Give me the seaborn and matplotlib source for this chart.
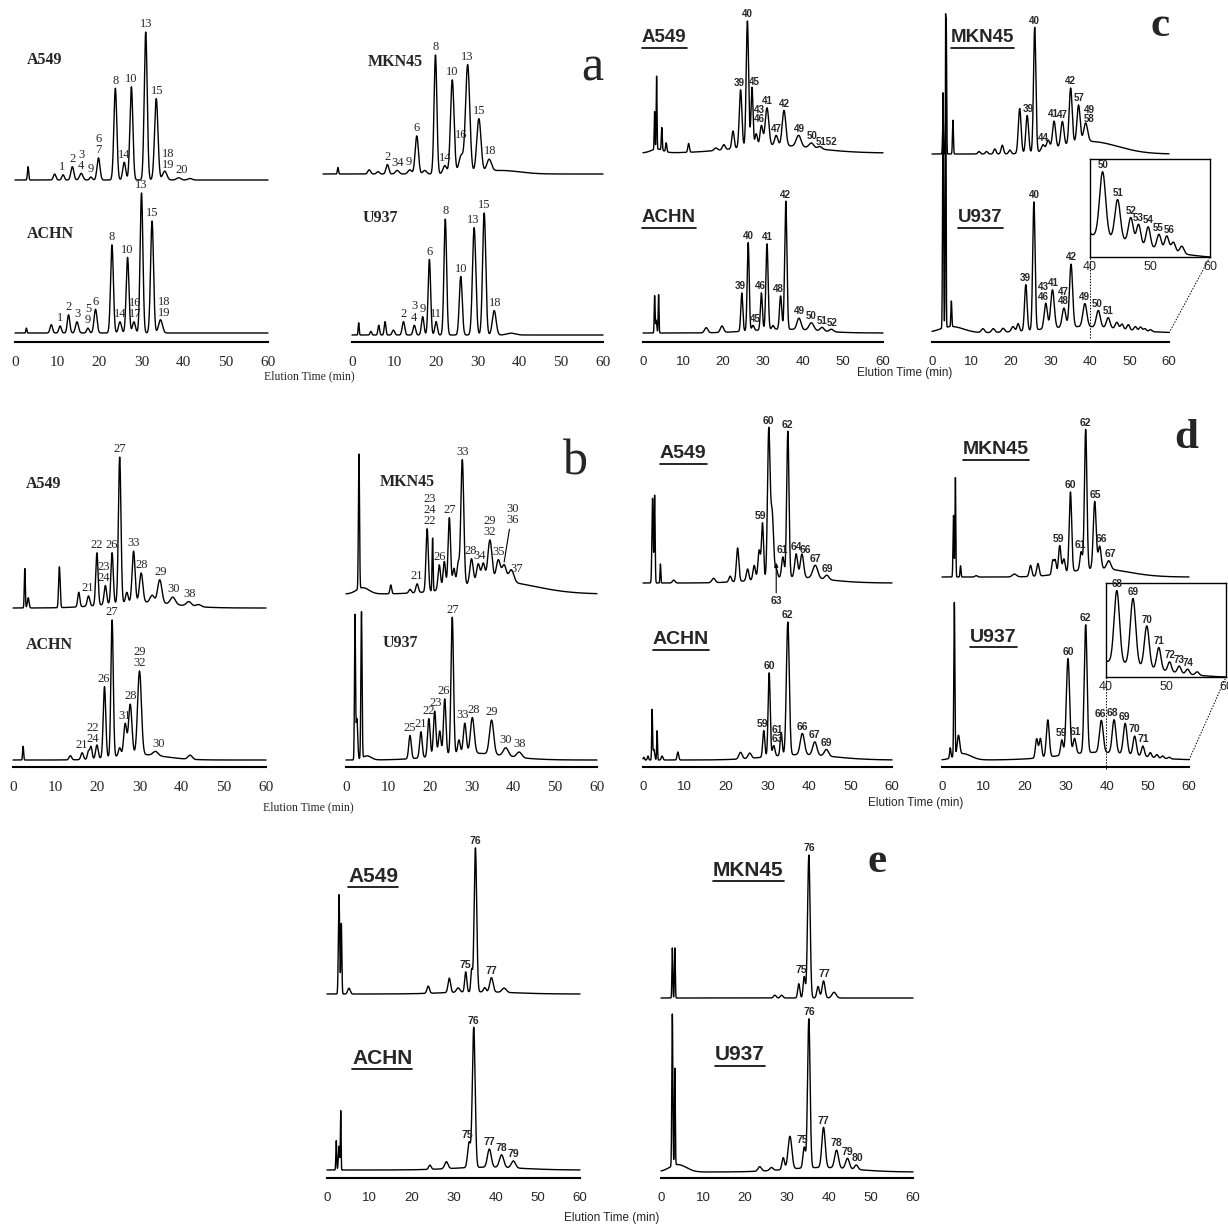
import numpy as np
import pandas as pd
import matplotlib
matplotlib.use("Agg")
import matplotlib.pyplot as plt
from matplotlib.lines import Line2D
import seaborn as sns

# peaks: (retention time [min], relative height, width [min])
# labels: (peak number text, retention time)

# ---- panel a ----
a_A549_peaks = [(3.1, 0.09, 0.15), (9.4, 0.04, 0.3), (11.4, 0.035, 0.3), (13.6, 0.09, 0.35),
                (15.7, 0.045, 0.4), (18.0, 0.02, 0.3), (19.8, 0.15, 0.35), (23.8, 0.62, 0.35),
                (25.9, 0.12, 0.35), (27.6, 0.63, 0.35), (31.0, 1.0, 0.35), (33.5, 0.55, 0.4),
                (35.5, 0.06, 0.5), (38.8, 0.015, 0.5), (41.5, 0.01, 0.5)]
a_A549_labels = [("1", 11.2), ("2", 13.6), ("3\n4", 15.7), ("9", 18.0), ("6\n7", 19.8), ("8", 23.8),
                 ("14", 26.0), ("10", 27.6), ("13", 31.0), ("15", 33.6), ("18\n19", 36.4), ("20", 39.6)]
a_ACHN_peaks = [(2.7, 0.035, 0.12), (8.6, 0.06, 0.3), (10.7, 0.05, 0.3), (12.7, 0.13, 0.3),
                (14.7, 0.08, 0.35), (17.3, 0.035, 0.3), (19.1, 0.17, 0.35), (23.0, 0.63, 0.33),
                (24.9, 0.08, 0.35), (26.7, 0.54, 0.33), (28.2, 0.08, 0.35), (30.0, 1.0, 0.33),
                (32.5, 0.80, 0.35), (34.5, 0.095, 0.45)]
a_ACHN_labels = [("1", 10.7), ("2", 12.7), ("3", 14.8), ("5\n9", 17.3), ("6", 19.1), ("8", 23.0),
                 ("14", 25.0), ("10", 26.7), ("16\n17", 28.4), ("13", 30.0), ("15", 32.6), ("18\n19", 35.3)]
a_MKN45_peaks = [(3.2, 0.055, 0.12), (9.9, 0.035, 0.3), (11.8, 0.02, 0.3), (13.8, 0.08, 0.3),
                 (15.9, 0.03, 0.4), (18.6, 0.035, 0.4), (20.1, 0.32, 0.35), (21.8, 0.03, 0.4),
                 (24.1, 1.0, 0.3), (26.1, 0.07, 0.4), (27.7, 0.79, 0.38), (29.6, 0.15, 0.5),
                 (31.0, 0.91, 0.45), (33.4, 0.45, 0.45), (35.6, 0.1, 0.5), (38.0, 0.03, 4.0)]
a_MKN45_labels = [("2", 13.8), ("34", 15.9), ("9", 18.4), ("6", 20.1), ("8", 24.1), ("14", 26.2),
                  ("10", 27.7), ("16", 29.6), ("13", 31.0), ("15", 33.4), ("18", 35.8)]
a_U937_peaks = [(1.6, 0.1, 0.12), (4.5, 0.03, 0.2), (6.4, 0.08, 0.2), (7.9, 0.11, 0.2),
                (9.9, 0.04, 0.3), (12.3, 0.11, 0.3), (14.9, 0.08, 0.3), (16.9, 0.15, 0.3),
                (18.5, 0.62, 0.3), (20.1, 0.11, 0.3), (22.3, 0.95, 0.32), (26.0, 0.48, 0.35),
                (29.2, 0.88, 0.4), (31.6, 1.0, 0.38), (34.0, 0.2, 0.45), (38.0, 0.015, 1.0)]
a_U937_labels = [("2", 12.3), ("3\n4", 14.9), ("9", 16.9), ("6", 18.5), ("11", 20.1), ("8", 22.3),
                 ("10", 26.0), ("13", 29.0), ("15", 31.6), ("18", 34.2)]

# ---- panel b ----
b_A549_peaks = [(2.8, 0.27, 0.12), (3.6, 0.07, 0.2), (11.0, 0.28, 0.18), (15.6, 0.1, 0.25),
                (17.9, 0.07, 0.3), (19.9, 0.36, 0.28), (21.9, 0.13, 0.3), (23.5, 0.35, 0.28),
                (25.3, 1.0, 0.3), (27.0, 0.07, 0.3), (28.6, 0.35, 0.35), (30.4, 0.2, 0.4),
                (33.0, 0.05, 0.5), (34.8, 0.16, 0.5), (37.9, 0.05, 0.6), (41.7, 0.03, 0.6),
                (44.0, 0.015, 0.6), (30.0, 0.04, 8.0)]
b_A549_labels = [("21", 17.6), ("22", 19.9), ("23\n24", 21.6), ("26", 23.4), ("27", 25.3), ("33", 28.6),
                 ("28", 30.6), ("29", 35.0), ("30", 38.0), ("38", 41.8)]
b_ACHN_peaks = [(2.4, 0.1, 0.12), (13.6, 0.03, 0.3), (16.4, 0.05, 0.3), (17.9, 0.06, 0.25),
                (18.5, 0.09, 0.25), (19.9, 0.1, 0.3), (21.7, 0.52, 0.3), (23.5, 1.0, 0.28),
                (25.3, 0.06, 0.3), (26.6, 0.23, 0.35), (27.8, 0.37, 0.4), (30.0, 0.61, 0.45),
                (33.8, 0.03, 0.6), (42.0, 0.03, 0.5), (30.0, 0.04, 6.0)]
b_ACHN_labels = [("21", 16.2), ("22\n24", 18.9), ("26", 21.5), ("27", 23.5), ("31", 26.4),
                 ("28", 27.9), ("29\n32", 30.0), ("30", 34.5)]
b_MKN45_peaks = [(3.1, 1.07, 0.13), (4.0, 0.05, 1.5), (10.7, 0.07, 0.2), (15.3, 0.03, 0.3),
                 (17.0, 0.07, 0.3), (19.4, 0.5, 0.28), (20.7, 0.42, 0.12), (22.3, 0.2, 0.3),
                 (23.5, 0.22, 0.3), (24.7, 0.56, 0.3), (25.8, 0.15, 0.3), (26.8, 0.18, 0.3),
                 (27.8, 1.0, 0.35), (30.0, 0.2, 0.4), (31.6, 0.15, 0.4), (32.8, 0.15, 0.4),
                 (34.4, 0.33, 0.5), (36.4, 0.17, 0.5), (37.8, 0.13, 0.5), (39.5, 0.1, 0.6),
                 (36.0, 0.1, 9.0)]
b_MKN45_labels = [("21", 17.0), ("23\n24\n22", 19.9), ("26", 22.5), ("27", 24.7), ("33", 27.8),
                  ("28", 29.7), ("34", 32.0), ("29\n32", 34.4), ("35", 36.4), ("37", 40.8)]
b_MKN45_leader = ("30\n36", 37.8)
b_U937_peaks = [(2.15, 1.04, 0.12), (2.6, 0.3, 0.2), (3.7, 1.07, 0.14), (5.0, 0.03, 1.0),
                (15.3, 0.17, 0.3), (17.9, 0.19, 0.3), (19.8, 0.28, 0.3), (21.2, 0.33, 0.3),
                (22.4, 0.18, 0.3), (23.6, 0.41, 0.3), (25.4, 1.0, 0.3), (27.0, 0.1, 0.3),
                (28.4, 0.22, 0.35), (30.2, 0.26, 0.45), (34.8, 0.25, 0.5), (38.2, 0.06, 0.6),
                (41.4, 0.04, 0.6), (30.0, 0.05, 8.0)]
b_U937_labels = [("25", 15.3), ("21", 17.9), ("22", 19.8), ("23", 21.4), ("26", 23.4), ("27", 25.4),
                 ("33", 27.9), ("28", 30.5), ("29", 34.8), ("30", 38.2), ("38", 41.6)]

# ---- panel c ----
c_A549_peaks = [(2.9, 0.3, 0.1), (3.4, 0.58, 0.1), (4.7, 0.18, 0.12), (5.8, 0.07, 0.15),
                (11.4, 0.07, 0.2), (18.2, 0.02, 0.4), (20.2, 0.04, 0.35), (22.5, 0.14, 0.3),
                (24.4, 0.46, 0.33), (26.1, 1.0, 0.3), (27.25, 0.47, 0.25), (28.3, 0.1, 0.3),
                (29.6, 0.16, 0.35), (31.0, 0.3, 0.45), (33.3, 0.08, 0.4), (35.25, 0.28, 0.45),
                (38.9, 0.09, 0.6), (42.1, 0.04, 0.6), (44.2, 0.02, 0.5), (33.0, 0.06, 10.0),
                (3.5, 0.03, 1.5)]
c_A549_labels = [("39", 24.1), ("40", 26.1), ("45", 27.9), ("43\n46", 29.0), ("41", 31.0),
                 ("47", 33.3), ("42", 35.3), ("49", 39.0), ("50", 42.2), ("5152", 45.8)]
c_ACHN_peaks = [(2.9, 0.29, 0.1), (3.3, 0.1, 0.15), (3.9, 0.3, 0.1), (15.8, 0.04, 0.4),
                (19.75, 0.05, 0.4), (24.7, 0.3, 0.25), (26.3, 0.69, 0.25), (27.5, 0.04, 0.3),
                (29.6, 0.29, 0.25), (31.0, 0.67, 0.28), (32.5, 0.03, 0.3), (34.4, 0.26, 0.28),
                (35.7, 1.0, 0.28), (39.0, 0.09, 0.5), (42.1, 0.06, 0.6), (44.75, 0.03, 0.5),
                (47.1, 0.02, 0.5), (35.0, 0.03, 8.0)]
c_ACHN_labels = [("39", 24.4), ("40", 26.3), ("45", 28.0), ("46", 29.3), ("41", 31.0), ("48", 33.9),
                 ("42", 35.7), ("49", 39.2), ("50", 42.1), ("51", 44.8), ("52", 47.3)]
c_MKN45_peaks = [(2.8, 0.3, 0.12), (3.6, 1.09, 0.1), (5.3, 0.27, 0.12), (11.9, 0.02, 0.3),
                 (13.8, 0.02, 0.3), (15.9, 0.04, 0.3), (17.8, 0.07, 0.3), (19.7, 0.03, 0.3),
                 (22.2, 0.36, 0.35), (24.1, 0.3, 0.35), (26.0, 1.0, 0.3), (28.1, 0.05, 0.4),
                 (29.4, 0.08, 0.4), (30.9, 0.22, 0.4), (33.0, 0.2, 0.4), (35.1, 0.45, 0.38),
                 (37.1, 0.3, 0.4), (38.9, 0.15, 0.5), (40.0, 0.1, 7.0)]
c_MKN45_labels = [("39", 24.4), ("40", 26.0), ("44", 28.3), ("41", 30.6), ("47", 33.1), ("42", 35.1),
                  ("57", 37.2), ("49\n58", 39.8)]
c_U937_peaks = [(2.8, 1.84, 0.12), (3.45, 2.45, 0.1), (4.9, 0.2, 0.12), (5.0, 0.05, 3.0),
                (12.9, 0.03, 0.4), (15.5, 0.03, 0.4), (18.0, 0.03, 0.4), (20.5, 0.04, 0.4),
                (21.8, 0.06, 0.3), (23.75, 0.36, 0.32), (25.8, 1.0, 0.3), (28.8, 0.2, 0.4),
                (30.5, 0.3, 0.45), (33.4, 0.15, 0.45), (35.2, 0.49, 0.4), (38.7, 0.18, 0.5),
                (42.1, 0.13, 0.5), (44.6, 0.08, 0.45), (46.8, 0.05, 0.4), (48.1, 0.04, 0.35),
                (49.7, 0.04, 0.35), (51.5, 0.03, 0.35), (52.8, 0.03, 0.35), (53.9, 0.02, 0.35),
                (55.3, 0.015, 0.35), (38.0, 0.05, 10.0)]
c_U937_labels = [("39", 23.5), ("40", 25.8), ("43\n46", 28.3), ("41", 30.8), ("47\n48", 33.3),
                 ("42", 35.2), ("49", 38.7), ("50", 41.9), ("51", 44.6)]
c_inset_labels = [("50", 42.1), ("51", 44.6), ("52", 46.8), ("53", 48.0), ("54", 49.7),
                  ("55", 51.3), ("56", 53.2)]

# ---- panel d ----
d_A549_peaks = [(2.3, 0.58, 0.15), (2.8, 0.6, 0.12), (4.2, 0.13, 0.1), (7.4, 0.02, 0.3),
                (17.0, 0.03, 0.4), (21.0, 0.04, 0.3), (22.8, 0.23, 0.3), (25.2, 0.08, 0.3),
                (26.8, 0.1, 0.3), (28.0, 0.2, 0.3), (28.8, 0.38, 0.25), (30.3, 1.0, 0.3),
                (31.1, 0.45, 0.35), (32.1, 0.06, 0.3), (33.7, 0.14, 0.3), (34.9, 1.0, 0.28),
                (36.9, 0.16, 0.35), (38.3, 0.16, 0.4), (41.5, 0.09, 0.6), (44.3, 0.03, 0.5),
                (36.0, 0.04, 8.0)]
d_A549_labels = [("59", 28.4), ("60", 30.3), ("61", 33.5), ("62", 34.9), ("64", 37.0), ("66", 39.1),
                 ("67", 41.5), ("69", 44.4)]
d_A549_arrow = ("63", 32.1)
d_ACHN_peaks = [(0.2, 0.02, 0.15), (1.2, 0.03, 0.15), (2.2, 0.37, 0.1), (2.6, 0.08, 0.2),
                (3.4, 0.22, 0.1), (4.6, 0.03, 0.2), (8.4, 0.06, 0.2), (23.5, 0.05, 0.4),
                (25.7, 0.04, 0.4), (29.1, 0.2, 0.25), (30.4, 0.63, 0.25), (31.5, 0.08, 0.3),
                (33.3, 0.17, 0.25), (34.9, 1.0, 0.35), (38.4, 0.16, 0.5), (41.4, 0.1, 0.5),
                (44.2, 0.05, 0.5), (38.0, 0.04, 8.0)]
d_ACHN_labels = [("59", 28.8), ("60", 30.4), ("61\n63", 32.4), ("62", 34.9), ("66", 38.4),
                 ("67", 41.4), ("69", 44.3)]
d_MKN45_peaks = [(2.8, 0.44, 0.12), (3.25, 0.71, 0.1), (4.5, 0.08, 0.12), (8.3, 0.01, 0.3),
                 (17.6, 0.02, 0.5), (21.5, 0.08, 0.3), (23.3, 0.09, 0.3), (26.9, 0.1, 0.25),
                 (27.5, 0.1, 0.25), (28.6, 0.2, 0.3), (29.6, 0.1, 0.3), (31.2, 0.57, 0.3),
                 (33.8, 0.13, 0.3), (34.9, 1.0, 0.3), (37.1, 0.48, 0.35), (38.3, 0.16, 0.35),
                 (40.5, 0.06, 0.5), (38.0, 0.06, 7.0)]
d_MKN45_labels = [("59", 28.4), ("60", 31.2), ("61", 33.5), ("62", 34.9), ("65", 37.3), ("66", 38.8),
                  ("67", 40.8)]
d_U937_peaks = [(2.0, 0.08, 0.15), (3.0, 1.2, 0.13), (4.0, 0.15, 0.3), (5.0, 0.05, 2.0),
                (23.0, 0.15, 0.3), (23.9, 0.15, 0.3), (25.7, 0.29, 0.35), (29.1, 0.12, 0.3),
                (30.6, 0.75, 0.4), (32.2, 0.12, 0.35), (34.9, 1.0, 0.35), (38.7, 0.25, 0.45),
                (41.8, 0.26, 0.45), (44.5, 0.24, 0.45), (46.8, 0.15, 0.4), (48.8, 0.08, 0.35),
                (50.6, 0.035, 0.3), (52.2, 0.025, 0.3), (53.6, 0.018, 0.3), (55.2, 0.012, 0.3),
                (38.0, 0.06, 9.0)]
d_U937_labels = [("59", 28.9), ("60", 30.6), ("61", 32.3), ("62", 34.9), ("66", 38.4), ("68", 41.4),
                 ("69", 44.4), ("70", 46.8), ("71", 48.8)]
d_inset_labels = [("68", 41.8), ("69", 44.5), ("70", 46.8), ("71", 48.8), ("72", 50.6),
                  ("73", 52.2), ("74", 53.6)]

# ---- panel e ----
e_A549_peaks = [(2.85, 0.69, 0.15), (3.4, 0.49, 0.12), (5.2, 0.04, 0.3), (24.0, 0.05, 0.3),
                (29.0, 0.1, 0.3), (31.1, 0.03, 0.4), (32.9, 0.14, 0.25), (34.3, 0.15, 0.2),
                (35.2, 1.0, 0.3), (37.4, 0.03, 0.3), (39.0, 0.1, 0.4), (42.0, 0.03, 0.5),
                (36.0, 0.015, 8.0)]
e_A549_labels = [("75", 32.9), ("76", 35.2), ("77", 39.0)]
e_ACHN_peaks = [(2.2, 0.21, 0.1), (2.85, 0.17, 0.15), (3.25, 0.42, 0.08), (24.4, 0.03, 0.3),
                (28.3, 0.05, 0.4), (33.7, 0.18, 0.35), (34.8, 1.0, 0.33), (38.5, 0.13, 0.45),
                (41.4, 0.09, 0.5), (44.2, 0.05, 0.5), (38.0, 0.02, 8.0)]
e_ACHN_labels = [("75", 33.3), ("76", 34.8), ("77", 38.5), ("78", 41.4), ("79", 44.2)]
e_MKN45_peaks = [(2.7, 0.35, 0.1), (3.3, 0.35, 0.1), (27.1, 0.02, 0.3), (28.7, 0.02, 0.3),
                 (32.8, 0.1, 0.25), (34.1, 0.15, 0.25), (35.2, 1.0, 0.3), (37.4, 0.08, 0.3),
                 (38.7, 0.12, 0.35), (41.2, 0.04, 0.5)]
e_MKN45_labels = [("75", 33.5), ("76", 35.2), ("77", 38.8)]
e_U937_peaks = [(2.7, 1.02, 0.12), (3.3, 0.65, 0.1), (4.0, 0.05, 2.0), (23.5, 0.03, 0.4),
                (26.3, 0.02, 0.4), (29.1, 0.08, 0.3), (30.7, 0.22, 0.45), (34.1, 0.14, 0.3),
                (35.2, 1.0, 0.3), (38.7, 0.27, 0.4), (41.8, 0.12, 0.45), (44.4, 0.07, 0.45),
                (46.5, 0.03, 0.4), (38.0, 0.03, 8.0)]
e_U937_labels = [("75", 33.6), ("76", 35.2), ("77", 38.7), ("78", 41.8), ("79", 44.3), ("80", 46.7)]

time_ticks = [0, 10, 20, 30, 40, 50, 60]
inset_ticks = [40, 50, 60]

sns.set_style("white")
plt.rcParams["font.family"] = ["Liberation Sans", "DejaVu Sans"]

W, H = 1228, 1226
fig = plt.figure(figsize=(W / 100, H / 100), dpi=100)
T = np.linspace(0, 60, 4001)

SERIF = "Liberation Serif"
SANS = "Liberation Sans"
LW = 1.0
underlined = []


def build(peaks):
    y = np.zeros_like(T)
    for c, h, w in peaks:
        y += h * np.exp(-0.5 * ((T - c) / w) ** 2)
    return y


def add_ax(x0, x1, base, top):
    return fig.add_axes([x0 / W, 1 - base / H, (x1 - x0) / W, (base - top) / H])


def draw_trace(geom, peaks, labels, serif, lab_size):
    ax = add_ax(*geom)
    y = build(peaks)
    df = pd.DataFrame({"time": T, "signal": y})
    sns.lineplot(data=df, x="time", y="signal", ax=ax, color="black", linewidth=LW,
                 estimator=None, sort=False)
    for ln in ax.lines:
        ln.set_clip_on(False)
    fam = SERIF if serif else SANS
    wt = "normal" if serif else "bold"
    for text, t in labels:
        m = (T > t - 0.6) & (T < t + 0.6)
        ax.annotate(text, (t, y[m].max()), xytext=(0, 1.2), textcoords="offset points",
                    ha="center", va="bottom", fontsize=lab_size, family=fam, weight=wt,
                    linespacing=0.9, annotation_clip=False)
    ax.set_xlim(0, 60)
    ax.set_ylim(0, 1)
    ax.set_xlabel("")
    ax.set_ylabel("")
    ax.axis("off")
    return ax, y


def add_axis(geom, axis_y, serif, size):
    x0, x1, base, top = geom
    ax = fig.add_axes([x0 / W, 1 - axis_y / H, (x1 - x0) / W, 0.001], facecolor="none")
    for s in ["left", "right", "top"]:
        ax.spines[s].set_visible(False)
    ax.spines["bottom"].set_linewidth(1.5)
    ax.spines["bottom"].set_color("black")
    ax.set_xlim(0, 60)
    ax.set_yticks([])
    ax.set_xticks(time_ticks)
    ax.set_xticklabels([str(v) for v in time_ticks], family=SERIF if serif else SANS,
                       fontsize=size)
    ax.tick_params(axis="x", direction="out", length=7, width=1.4, pad=3, color="black")


def cell_label(x, y, text, serif, size):
    if serif:
        fig.text(x / W, 1 - y / H, text, family=SERIF, weight="bold", fontsize=size,
                 ha="left", va="center")
    else:
        t = fig.text(x / W, 1 - y / H, text, family=SANS, weight="bold", fontsize=size,
                     ha="left", va="center")
        underlined.append(t)


def px_line(xs, ys, **kw):
    fig.add_artist(Line2D([x / W for x in xs], [1 - y / H for y in ys],
                          transform=fig.transFigure, **kw))


def inset(box, y, labels, top_frac):
    x0, x1, base, top = box
    ax = add_ax(x0, x1, base, top)
    m = T >= 40
    ymin = y[-1]
    ymax = ymin + (y[m].max() - ymin) / top_frac
    sns.lineplot(x=T[m], y=y[m], ax=ax, color="black", linewidth=LW, estimator=None, sort=False)
    for text, t in labels:
        mm = (T > t - 0.5) & (T < t + 0.5)
        ax.annotate(text, (t, y[mm].max()), xytext=(0, 1.0), textcoords="offset points",
                    ha="center", va="bottom", fontsize=7, family=SANS, weight="bold")
    ax.set_xlim(40, 60)
    ax.set_ylim(ymin, ymax)
    ax.set_yticks([])
    ax.set_xticks(inset_ticks)
    ax.set_xticklabels([str(v) for v in inset_ticks], family=SANS, fontsize=9)
    ax.tick_params(axis="x", direction="in", length=4, width=1, pad=3)
    ax.set_xlabel("")
    ax.set_ylabel("")
    for s in ax.spines.values():
        s.set_linewidth(1.0)
        s.set_color("black")
    return ax


# panel a
g = (15, 268, 180, 32); draw_trace(g, a_A549_peaks, a_A549_labels, True, 9)
g = (15, 268, 333, 193); draw_trace(g, a_ACHN_peaks, a_ACHN_labels, True, 9); add_axis(g, 342, True, 11)
g = (323, 603, 174, 55); draw_trace(g, a_MKN45_peaks, a_MKN45_labels, True, 9)
g = (352, 603, 335, 213); draw_trace(g, a_U937_peaks, a_U937_labels, True, 9); add_axis(g, 342, True, 11)
cell_label(27, 60, "A549", True, 11.5)
cell_label(27, 234, "ACHN", True, 11.5)
cell_label(368, 62, "MKN45", True, 11.5)
cell_label(363, 218, "U937", True, 11.5)
fig.text(309 / W, 1 - 376 / H, "Elution Time (min)", family=SERIF, fontsize=8.5, ha="center", va="center")
fig.text(592 / W, 1 - 68 / H, "a", family=SERIF, fontsize=36, ha="center", va="center")

# panel b
g = (13, 266, 608, 462); draw_trace(g, b_A549_peaks, b_A549_labels, True, 9)
g = (13, 266, 760, 623); draw_trace(g, b_ACHN_peaks, b_ACHN_labels, True, 9); add_axis(g, 767, True, 11)
g = (346, 597, 594, 468); ax_bm, y_bm = draw_trace(g, b_MKN45_peaks, b_MKN45_labels, True, 9)
txt, tt = b_MKN45_leader
mm = (T > tt - 0.3) & (T < tt + 0.3)
ax_bm.annotate(txt, xy=(tt, y_bm[mm].max() + 0.02), xytext=(6, 26), textcoords="offset points",
               ha="center", va="bottom", fontsize=9, family=SERIF, linespacing=0.9,
               arrowprops=dict(arrowstyle="-", lw=0.8, color="black", shrinkA=0, shrinkB=0,
                               relpos=(0.3, 0.0)),
               annotation_clip=False)
g = (346, 597, 760, 623); draw_trace(g, b_U937_peaks, b_U937_labels, True, 9); add_axis(g, 767, True, 11)
cell_label(26, 484, "A549", True, 11.5)
cell_label(26, 645, "ACHN", True, 11.5)
cell_label(380, 482, "MKN45", True, 11.5)
cell_label(383, 643, "U937", True, 11.5)
fig.text(308 / W, 1 - 807 / H, "Elution Time (min)", family=SERIF, fontsize=8.5, ha="center", va="center")
fig.text(575 / W, 1 - 462 / H, "b", family=SERIF, fontsize=36, ha="center", va="center")

# panel c
g = (643, 883, 153, 27); draw_trace(g, c_A549_peaks, c_A549_labels, False, 7)
g = (643, 883, 333, 205); draw_trace(g, c_ACHN_peaks, c_ACHN_labels, False, 7); add_axis(g, 342, False, 9.5)
g = (932, 1169, 154, 29); draw_trace(g, c_MKN45_peaks, c_MKN45_labels, False, 7)
g = (932, 1169, 333, 205); ax_cu, y_cu = draw_trace(g, c_U937_peaks, c_U937_labels, False, 7)
add_axis(g, 342, False, 9.5)
inset((1090, 1210, 257, 159), y_cu, c_inset_labels, 0.87)
px_line([1090, 1090], [338, 257], color="black", lw=0.7, ls=(0, (1.5, 1.5)))
px_line([1169, 1210], [333, 257], color="black", lw=0.7, ls=(0, (1.5, 1.5)))
cell_label(642, 38, "A549", False, 13.5)
cell_label(642, 218, "ACHN", False, 13.5)
cell_label(951, 38, "MKN45", False, 13.5)
cell_label(958, 218, "U937", False, 13.5)
fig.text(905 / W, 1 - 373 / H, "Elution Time (min)", family=SANS, fontsize=8.5, ha="center", va="center")
fig.text(1160 / W, 1 - 26 / H, "c", family=SERIF, weight="bold", fontsize=31, ha="center", va="center")

# panel d
g = (643, 892, 583, 437); ax_da, y_da = draw_trace(g, d_A549_peaks, d_A549_labels, False, 7.5)
txt, tt = d_A549_arrow
mm = (T > tt - 0.3) & (T < tt + 0.3)
ax_da.annotate(txt, xy=(tt, y_da[mm].max() + 0.01), xytext=(tt, -0.09), textcoords="data",
               ha="center", va="top", fontsize=7.5, family=SANS, weight="bold",
               arrowprops=dict(arrowstyle="-|>", lw=0.8, color="black", mutation_scale=6,
                               shrinkA=0, shrinkB=0),
               annotation_clip=False)
g = (643, 892, 760, 627); draw_trace(g, d_ACHN_peaks, d_ACHN_labels, False, 7.5); add_axis(g, 767, False, 9.5)
g = (942, 1189, 577, 437); draw_trace(g, d_MKN45_peaks, d_MKN45_labels, False, 7.5)
g = (942, 1189, 760, 632); ax_du, y_du = draw_trace(g, d_U937_peaks, d_U937_labels, False, 7.5)
add_axis(g, 767, False, 9.5)
inset((1106, 1226, 677, 583), y_du, d_inset_labels, 0.92)
px_line([1106, 1106], [769, 677], color="black", lw=0.7, ls=(0, (1.5, 1.5)))
px_line([1189, 1226], [760, 677], color="black", lw=0.7, ls=(0, (1.5, 1.5)))
cell_label(660, 454, "A549", False, 14)
cell_label(653, 640, "ACHN", False, 14)
cell_label(963, 450, "MKN45", False, 14)
cell_label(970, 637, "U937", False, 14)
fig.text(916 / W, 1 - 803 / H, "Elution Time (min)", family=SANS, fontsize=8.5, ha="center", va="center")
fig.text(1186 / W, 1 - 438 / H, "d", family=SERIF, weight="bold", fontsize=31, ha="center", va="center")

# panel e
g = (327, 580, 994, 850); draw_trace(g, e_A549_peaks, e_A549_labels, False, 7.5)
g = (327, 580, 1170, 1030); draw_trace(g, e_ACHN_peaks, e_ACHN_labels, False, 7.5); add_axis(g, 1178, False, 9.5)
g = (661, 913, 998, 855); draw_trace(g, e_MKN45_peaks, e_MKN45_labels, False, 7.5)
g = (661, 913, 1172, 1023); draw_trace(g, e_U937_peaks, e_U937_labels, False, 7.5); add_axis(g, 1178, False, 9.5)
cell_label(348, 876, "A549", False, 15)
cell_label(352, 1058, "ACHN", False, 15)
cell_label(713, 870, "MKN45", False, 15)
cell_label(715, 1055, "U937", False, 15)
fig.text(612 / W, 1 - 1218 / H, "Elution Time (min)", family=SANS, fontsize=8.5, ha="center", va="center")
fig.text(877 / W, 1 - 862 / H, "e", family=SERIF, weight="bold", fontsize=31, ha="center", va="center")

# underline the sans cell-line names
fig.canvas.draw()
r = fig.canvas.get_renderer()
for t in underlined:
    bb = t.get_window_extent(r)
    fig.add_artist(Line2D([bb.x0 / W, bb.x1 / W], [(bb.y0 - 1) / H] * 2,
                          transform=fig.transFigure, color="black", lw=1.2))

fig.savefig("out.png", dpi=100)
